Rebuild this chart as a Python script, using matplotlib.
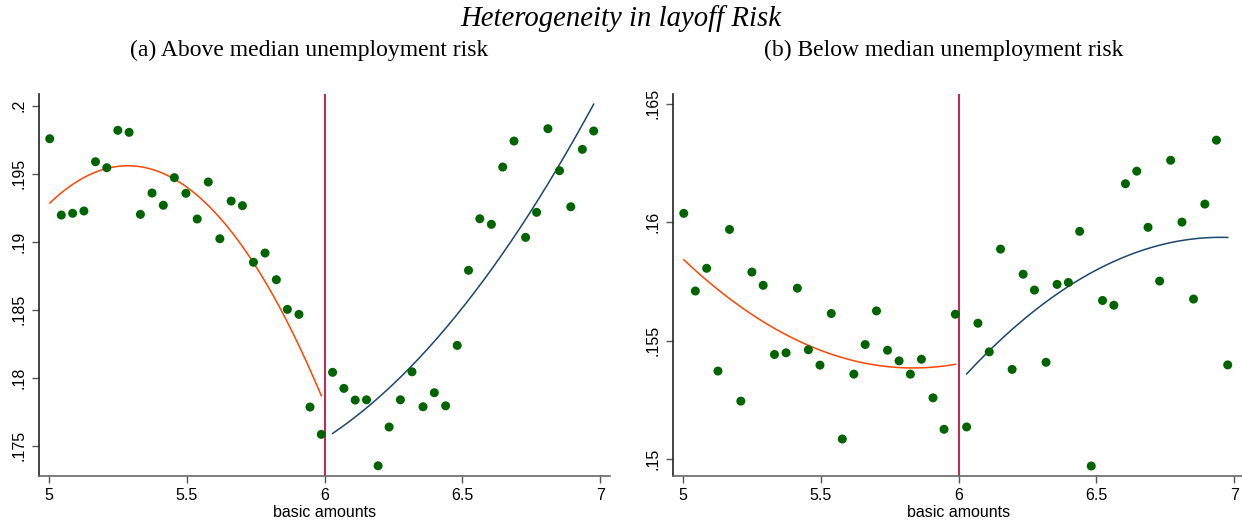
import matplotlib
matplotlib.use('Agg')
import matplotlib.pyplot as plt
import numpy as np

# binned means, basic amounts on x
x_left = [5.003, 5.045, 5.086, 5.127, 5.169, 5.210, 5.250, 5.291, 5.332, 5.374,
          5.415, 5.455, 5.497, 5.538, 5.578, 5.620, 5.661, 5.702, 5.742, 5.784,
          5.825, 5.865, 5.907, 5.947, 5.988]
x_right = [6.029, 6.070, 6.111, 6.152, 6.194, 6.234, 6.275, 6.317, 6.357, 6.398,
           6.439, 6.481, 6.522, 6.563, 6.605, 6.646, 6.687, 6.729, 6.769, 6.810,
           6.852, 6.893, 6.935, 6.976]

# (a) above median unemployment risk
above_left = [0.19757, 0.19196, 0.19209, 0.19226, 0.19588, 0.19544, 0.19819, 0.19804,
              0.19201, 0.19358, 0.19268, 0.19471, 0.19356, 0.19167, 0.19439, 0.19022,
              0.19299, 0.19265, 0.18849, 0.18917, 0.18721, 0.18503, 0.18466, 0.17785,
              0.17584]
above_right = [0.18040, 0.17922, 0.17836, 0.17838, 0.17353, 0.17638, 0.17838, 0.18044,
               0.17787, 0.17890, 0.17794, 0.18238, 0.18790, 0.19169, 0.19128, 0.19549,
               0.19740, 0.19032, 0.19216, 0.19831, 0.19522, 0.19257, 0.19679, 0.19814]

# (b) below median unemployment risk
below_left = [0.16038, 0.15710, 0.15806, 0.15372, 0.15970, 0.15245, 0.15790, 0.15734,
              0.15442, 0.15449, 0.15722, 0.15462, 0.15397, 0.15615, 0.15085, 0.15359,
              0.15484, 0.15626, 0.15460, 0.15415, 0.15359, 0.15422, 0.15259, 0.15126,
              0.15612]
below_right = [0.15136, 0.15574, 0.15453, 0.15887, 0.15379, 0.15781, 0.15714, 0.15409,
               0.15738, 0.15746, 0.15962, 0.14971, 0.15670, 0.15650, 0.16163, 0.16216,
               0.15979, 0.15752, 0.16262, 0.16001, 0.15676, 0.16077, 0.16347, 0.15398]

# quadratic fits on each side of the cutoff, coefficients in powers of (x - 6)
fit_above_left = [-0.0343, -0.04898, 0.17810]
fit_above_right = [0.0125, 0.0130, 0.17552]
fit_below_left = [0.0066, 0.002178, 0.15403]
fit_below_right = [-0.0068, 0.01292, 0.15323]

cutoff = 6

panels = [
    ("(a) Above median unemployment risk", above_left, above_right,
     fit_above_left, fit_above_right, (0.1728, 0.20086),
     [0.175, 0.18, 0.185, 0.19, 0.195, 0.2], ['.175', '.18', '.185', '.19', '.195', '.2']),
    ("(b) Below median unemployment risk", below_left, below_right,
     fit_below_left, fit_below_right, (0.1493, 0.16542),
     [0.15, 0.155, 0.16, 0.165], ['.15', '.155', '.16', '.165']),
]

plt.rcParams['font.family'] = ['Liberation Sans', 'DejaVu Sans']

fig = plt.figure(figsize=(12.42, 5.21), dpi=100, facecolor='white')
ax_pos = [[0.0316, 0.0869, 0.4595, 0.7327],
          [0.5421, 0.0869, 0.4595, 0.7327]]
sub_x = [0.2490, 0.7597]

for pos, sx, (sub, y_l, y_r, f_l, f_r, ylim, yt, ytl) in zip(ax_pos, sub_x, panels):
    ax = fig.add_axes(pos)
    ax.axvline(cutoff, color='#c8103f', lw=1.3, zorder=1)
    ax.scatter(x_left, y_l, s=42, color='#006400', edgecolors='none', zorder=3)
    ax.scatter(x_right, y_r, s=42, color='#006400', edgecolors='none', zorder=3)

    xs = np.linspace(x_left[0], x_left[-1], 200)
    ax.plot(xs, np.polyval(f_l, xs - cutoff), color='#ff4500', lw=1.1, zorder=2)
    xs = np.linspace(x_right[0], x_right[-1], 200)
    ax.plot(xs, np.polyval(f_r, xs - cutoff), color='#1a476f', lw=1.1, zorder=2)

    ax.set_xlim(4.965, 7.035)
    ax.set_ylim(*ylim)
    ax.set_xticks([5, 5.5, 6, 6.5, 7])
    ax.set_xticklabels(['5', '5.5', '6', '6.5', '7'])
    ax.set_yticks(yt)
    ax.set_yticklabels(ytl, rotation=90, va='center')
    ax.tick_params(labelsize=11.5, length=5, width=1, color='#555555', pad=4)
    ax.set_xlabel('basic amounts', fontsize=11.5, labelpad=1)

    for spine in ['top', 'right']:
        ax.spines[spine].set_visible(False)
    ax.spines['left'].set_color('#222222')
    ax.spines['bottom'].set_color('#666666')
    ax.spines['left'].set_linewidth(1.2)
    ax.spines['bottom'].set_linewidth(1.2)

    fig.text(sx, 0.904, sub, ha='center', va='center', fontsize=17,
             family='Liberation Serif')

fig.text(0.5, 0.965, 'Heterogeneity in layoff Risk', ha='center', va='center',
         fontsize=20.7, style='italic', family='Liberation Serif')

fig.savefig('out.png', dpi=100, facecolor='white')
